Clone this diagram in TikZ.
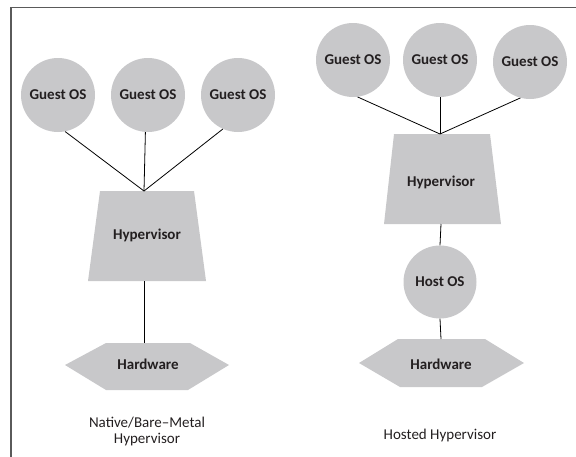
\documentclass[tikz,border=0pt]{standalone}
\usepackage{fontspec}
\setmainfont{Carlito}
\definecolor{fillg}{RGB}{200,200,202}
\definecolor{txt}{RGB}{35,31,32}
\definecolor{framec}{RGB}{90,90,90}
\begin{document}
\begin{tikzpicture}[x=1pt,y=-1pt,
  shapefill/.style={fill=fillg, draw=none},
  os/.style={circle, shapefill, minimum size=74pt, inner sep=0pt, font=\bfseries\fontsize{15}{18}\selectfont, text=txt},
  lbl/.style={font=\bfseries\fontsize{15}{18}\selectfont, text=txt},
  captext/.style={font=\fontsize{15}{16}\selectfont, text=txt, align=center},
  link/.style={draw=black, line width=0.8pt}]
\useasboundingbox (0,0) rectangle (576,456);
\draw[framec, line width=1.5pt] (11,457) -- (11,7.5) -- (577,7.5);

% left: native / bare-metal
\node[os] (g1) at (58,95) {Guest OS};
\node[os] (g2) at (148,95) {Guest OS};
\node[os] (g3) at (238,95) {Guest OS};
\fill[fillg] (100,191) -- (194,191) -- (206,281) -- (88,281) -- cycle;
\node[lbl] (hv1) at (147,235) {Hypervisor};
\coordinate (hv1t) at (144,191);
\coordinate (hv1b) at (144,281);
\fill[fillg] (106,343) -- (190,343) -- (229,365) -- (188,390) -- (106,390) -- (65,365) -- cycle;
\node[lbl] (hw1) at (148,364) {Hardware};
\coordinate (hw1t) at (144,343);
\draw[link] (g1.281) -- (hv1t);
\draw[link] (g2.266) -- (hv1t);
\draw[link] (g3.246) -- (hv1t);
\draw[link] (hv1b) -- (hw1t);
\node[captext] (c1) at (147,431) {Native/Bare--Metal\\Hypervisor};

% right: hosted
\node[os] (g4) at (353,60) {Guest OS};
\node[os] (g5) at (440,60) {Guest OS};
\node[os] (g6) at (530,62) {Guest OS};
\fill[fillg] (394,134) -- (490,134) -- (501,224) -- (384,224) -- cycle;
\node[lbl] (hv2) at (441,182) {Hypervisor};
\coordinate (hv2t) at (440,134);
\coordinate (hv2b) at (441,224);
\node[os, minimum size=73pt] (host) at (440,282) {Host OS};
\fill[fillg] (398,339) -- (485,339) -- (524,363) -- (482,387) -- (400,387) -- (359,363) -- cycle;
\node[lbl] (hw2) at (441,364) {Hardware};
\coordinate (hw2t) at (441,339);
\draw[link] (g4.277) -- (hv2t);
\draw[link] (g5.south) -- (hv2t);
\draw[link] (g6.255) -- (hv2t);
\draw[link] (hv2b) -- (host.north);
\draw[link] (host.south) -- (hw2t);
\node[captext] (c2) at (440,435) {Hosted Hypervisor};
\end{tikzpicture}
\end{document}
